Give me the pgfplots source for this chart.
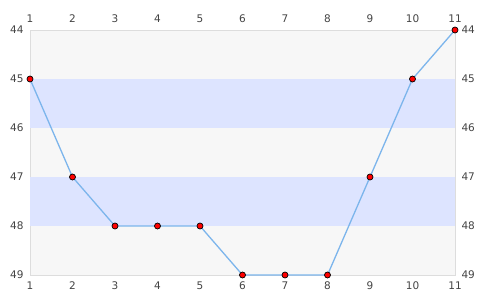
\documentclass[border=0pt]{standalone}
\usepackage{pgfplots}
\pgfplotsset{compat=1.18}
\usepackage{fontspec}
\setmainfont{DejaVu Sans}
\definecolor{bandgray}{HTML}{F7F7F7}
\definecolor{bandblue}{HTML}{DDE4FF}
\definecolor{linec}{HTML}{7CB5EC}
\definecolor{framec}{HTML}{DDDDDD}
\definecolor{labc}{HTML}{444444}
\begin{document}
\begin{tikzpicture}[x=1pt,y=1pt]
\pgfplotsset{
  common/.style={
    at={(0,0)}, anchor=south west,
    scale only axis, width=425pt, height=245pt,
    xmin=1, xmax=11, ymin=44, ymax=49, y dir=reverse,
    xtick={1,...,11}, ytick={44,...,49},
    major tick length=0pt,
    xticklabel={\fontsize{10.5}{12}\selectfont\color{labc}\pgfmathprintnumber{\tick}},
    yticklabel={\fontsize{10.5}{12}\selectfont\color{labc}\pgfmathprintnumber{\tick}},
    /pgf/number format/assume math mode=true,
    axis line style={framec},
  }
}
\begin{axis}[common,
  axis background/.style={fill=bandgray},
  xticklabel style={yshift=-3.5pt},
  yticklabel style={xshift=-3pt},
  clip=false]
\addplot[draw=none, fill=bandblue] coordinates {(1,45) (11,45) (11,46) (1,46)} -- cycle;
\addplot[draw=none, fill=bandblue] coordinates {(1,47) (11,47) (11,48) (1,48)} -- cycle;
\addplot[linec, line width=1.3pt, mark=*, mark size=3pt,
  mark options={fill=red, draw=black, line width=0.7pt}]
  coordinates {(1,45) (2,47) (3,48) (4,48) (5,48) (6,49) (7,49) (8,49) (9,47) (10,45) (11,44)};
\end{axis}
\begin{axis}[common,
  axis x line*=top, axis y line*=right,
  xticklabel style={yshift=3.5pt},
  yticklabel style={xshift=3pt},
  axis line style={draw=none}]
\addplot[draw=none] coordinates {(1,44)};
\end{axis}
\pgfresetboundingbox
\path (-30pt,-25pt) rectangle (455pt,275pt);
\end{tikzpicture}
\end{document}
